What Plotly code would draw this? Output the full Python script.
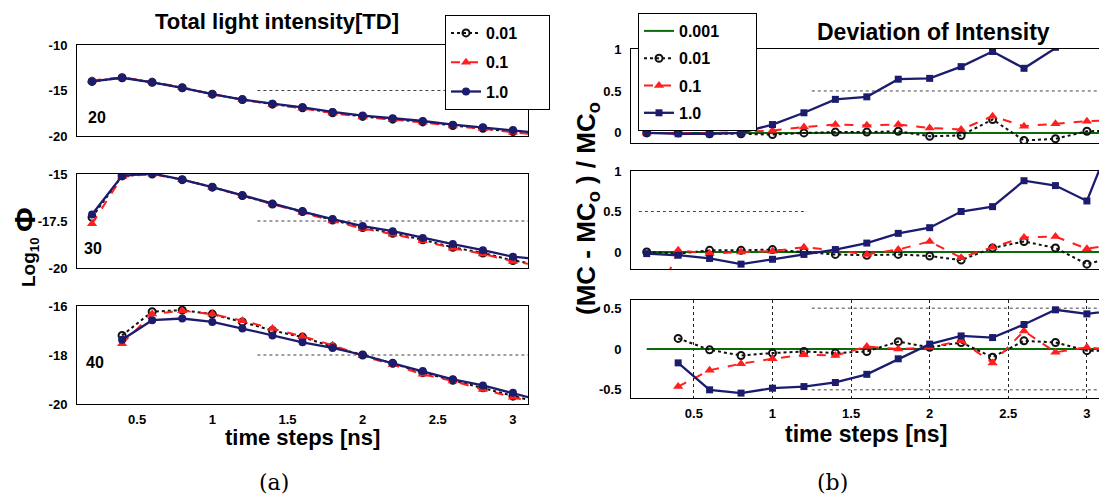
import plotly.graph_objects as go

W, H = 1099, 499

# ---------------- data ----------------
T = [0.2, 0.4, 0.6, 0.8, 1.0, 1.2, 1.4, 1.6, 1.8, 2.0, 2.2, 2.4, 2.6, 2.8, 3.0, 3.2]
T40 = [0.4, 0.6, 0.8, 1.0, 1.2, 1.4, 1.6, 1.8, 2.0, 2.2, 2.4, 2.6, 2.8, 3.0, 3.2]

# (a) Total light intensity, log10 Phi
L20_001 = [-14.0, -13.6, -14.1, -14.7, -15.4, -16.0, -16.5, -16.9, -17.45, -17.85, -18.15, -18.45, -18.85, -19.15, -19.5, -19.85]
L20_01 = [-13.9, -13.55, -14.05, -14.65, -15.4, -16.0, -16.55, -16.95, -17.5, -17.9, -18.2, -18.5, -18.9, -19.2, -19.6, -19.9]
L20_1 = [-14.0, -13.6, -14.1, -14.7, -15.4, -16.0, -16.45, -16.85, -17.35, -17.75, -18.05, -18.35, -18.75, -19.05, -19.35, -19.7]

L30_001 = [-17.3, -15.1, -15.0, -15.3, -15.7, -16.15, -16.6, -17.0, -17.45, -17.85, -18.15, -18.5, -18.9, -19.2, -19.6, -19.85]
L30_01 = [-17.65, -15.15, -15.0, -15.3, -15.7, -16.15, -16.6, -17.05, -17.5, -17.9, -18.2, -18.55, -18.95, -19.25, -19.65, -19.9]
L30_1 = [-17.15, -15.1, -14.97, -15.3, -15.7, -16.14, -16.6, -17.0, -17.4, -17.77, -18.04, -18.4, -18.73, -19.05, -19.4, -19.55]

L40_001 = [-17.2, -16.23, -16.17, -16.33, -16.65, -17.0, -17.27, -17.66, -18.0, -18.34, -18.72, -19.03, -19.34, -19.68, -19.98]
L40_01 = [-17.54, -16.33, -16.19, -16.33, -16.6, -16.92, -17.24, -17.6, -18.03, -18.4, -18.79, -19.06, -19.41, -19.72, -20.05]
L40_1 = [-17.38, -16.58, -16.51, -16.65, -16.92, -17.2, -17.48, -17.71, -18.0, -18.34, -18.65, -18.99, -19.24, -19.54, -19.88]

# (b) Deviation of intensity (MC - MCo)/MCo
D20_0001 = [0, 0, 0, 0, 0, 0, 0, 0, 0, 0, 0, 0, 0, 0, 0, 0]
D20_001 = [0, 0, -0.01, -0.01, -0.02, 0, 0.01, 0.01, 0.02, -0.04, -0.03, 0.16, -0.09, -0.07, 0.02, 0.03]
D20_01 = [0, 0, 0, 0.01, 0.03, 0.07, 0.1, 0.09, 0.1, 0.06, 0.04, 0.2, 0.08, 0.11, 0.14, 0.15]
D20_1 = [0, -0.01, -0.01, 0, 0.1, 0.24, 0.4, 0.43, 0.64, 0.65, 0.79, 0.97, 0.77, 1.02, 1.25, 1.4]

D30_0001 = [0, 0, 0, 0, 0, 0, 0, 0, 0, 0, 0, 0, 0, 0, 0, 0]
D30_001 = [0, -0.02, 0.02, 0.02, 0.03, 0, -0.03, -0.04, -0.03, -0.05, -0.1, 0.05, 0.13, 0.05, -0.15, -0.05]
D30_01 = [-0.9, 0.02, -0.02, 0, 0.01, 0.06, 0.02, -0.03, 0.03, 0.13, -0.07, 0.06, 0.18, 0.19, 0.04, 0.1]
D30_1 = [-0.02, -0.04, -0.08, -0.15, -0.09, -0.03, 0.03, 0.11, 0.23, 0.3, 0.5, 0.56, 0.88, 0.82, 0.63, 1.6]

D40_0001 = [0, 0, 0, 0, 0, 0, 0, 0, 0, 0, 0, 0, 0, 0, 0, 0]
D40_001 = [0.13, -0.01, -0.08, -0.05, -0.03, -0.05, -0.03, 0.09, 0.02, 0.08, -0.1, 0.1, 0.08, -0.02, -0.02]
D40_01 = [-0.46, -0.26, -0.18, -0.12, -0.07, -0.08, 0.03, 0, 0.02, 0.1, -0.17, 0.22, -0.04, 0.02, -0.02]
D40_1 = [-0.17, -0.5, -0.54, -0.48, -0.46, -0.41, -0.31, -0.12, 0.06, 0.16, 0.14, 0.3, 0.48, 0.43, 0.48]

X_TICKS = [0.5, 1, 1.5, 2, 2.5, 3]
X_TICKTEXT = ["0.5", "1", "1.5", "2", "2.5", "3"]
LEFT_YTICKS = [[-20, -15, -10], [-20, -17.5, -15], [-20, -18, -16]]
LEFT_YTEXT = [["-20", "-15", "-10"], ["-20", "-17.5", "-15"], ["-20", "-18", "-16"]]
RIGHT_YTICKS = [[0, 0.5, 1], [0, 0.5, 1], [-0.5, 0, 0.5]]
RIGHT_YTEXT = [["0", "0.5", "1"], ["0", "0.5", "1"], ["-0.5", "0", "0.5"]]
PANEL_LABELS = ["20", "30", "40"]

# ---------------- styles ----------------
NAVY = "#1c1c6e"
RED = "#ff1f1f"
BLACK = "#111111"
GREEN = "#0b6b0b"
FONT = "Liberation Sans"
PAD_L = "\u00a0" * 6
PAD_R = "\u00a0" * 7

STYLE = {
    "0.001": dict(line=dict(color=GREEN, width=2, dash="solid"), mode="lines"),
    "0.01": dict(line=dict(color=BLACK, width=2, dash="dot"), mode="lines+markers",
                 marker=dict(symbol="circle-open", size=7, color=BLACK, line=dict(width=2))),
    "0.1": dict(line=dict(color=RED, width=2, dash="dash"), mode="lines+markers",
                marker=dict(symbol="triangle-up", size=9, color=RED)),
    "1.0": dict(line=dict(color=NAVY, width=2.3, dash="solid"), mode="lines+markers",
                marker=dict(symbol="circle", size=8, color=NAVY)),
}


def px_x(p):
    return p / W


def px_y(p):
    return 1 - p / H


def bfont(size):
    return dict(family=FONT, size=size, color="black", weight="bold")


fig = go.Figure()

left_dom_x = [px_x(77), px_x(528)]
right_dom_x = [px_x(631), 1.0]
left_dom_y = [(45, 136), (174, 268), (306, 404)]
right_dom_y = [(49, 143), (171, 269), (300, 398)]
left_ranges = [[-20, -10], [-20, -15], [-20, -16]]
right_ranges = [[-0.12, 1], [-0.21, 1], [-0.6, 0.6]]

left_data = [
    (T, L20_001, L20_01, L20_1),
    (T, L30_001, L30_01, L30_1),
    (T40, L40_001, L40_01, L40_1),
]
right_data = [
    (T, T, D20_0001, D20_001, D20_01, D20_1),
    (T, T, D30_0001, D30_001, D30_01, D30_1),
    (T, T40, D40_0001, D40_001, D40_01, D40_1),
]

for i in range(3):
    ax = i + 1
    xs, a, b, c = left_data[i]
    for name, vals in zip(["0.01", "0.1", "1.0"], [a, b, c]):
        fig.add_trace(go.Scatter(
            x=xs, y=vals, name=name + PAD_L, xaxis=f"x{ax}", yaxis=f"y{ax}",
            legend="legend", legendgroup="L" + name, showlegend=(i == 0), **STYLE[name]))

for i in range(3):
    ax = i + 4
    xg, xs, g, a, b, c = right_data[i]
    fig.add_trace(go.Scatter(
        x=xg, y=g, name="0.001" + PAD_R, xaxis=f"x{ax}", yaxis=f"y{ax}",
        legend="legend2", legendgroup="R0.001", showlegend=(i == 0), **STYLE["0.001"]))
    for name, vals in zip(["0.01", "0.1", "1.0"], [a, b, c]):
        st = dict(STYLE[name])
        if name == "1.0":
            st = dict(st, marker=dict(symbol="square", size=7, color=NAVY))
        fig.add_trace(go.Scatter(
            x=xs, y=vals, name=name + PAD_R, xaxis=f"x{ax}", yaxis=f"y{ax}",
            legend="legend2", legendgroup="R" + name, showlegend=(i == 0), **st))

tickfont = bfont(13)
layout = {}
for i in range(3):
    ax = i + 1
    k = "" if ax == 1 else str(ax)
    y0, y1 = left_dom_y[i]
    layout["xaxis" + k] = dict(
        domain=left_dom_x, range=[0.1, 3.1], anchor="y" + k, tickvals=X_TICKS, ticktext=X_TICKTEXT,
        showticklabels=(i == 2), showline=True, mirror=True, linecolor="black", linewidth=1,
        showgrid=False, zeroline=False, ticks="", tickfont=tickfont, ticklabelstandoff=3,
        automargin=False)
    layout["yaxis" + k] = dict(
        domain=[px_y(y1), px_y(y0)], range=left_ranges[i], anchor="x" + k,
        tickvals=LEFT_YTICKS[i], ticktext=LEFT_YTEXT[i], showline=True, mirror=True,
        linecolor="black", linewidth=1, showgrid=False, zeroline=False, ticks="",
        tickfont=tickfont, ticklabelstandoff=6, automargin=False)
for i in range(3):
    ax = i + 4
    k = str(ax)
    y0, y1 = right_dom_y[i]
    layout["xaxis" + k] = dict(
        domain=right_dom_x, range=[0.1, 3.077], anchor="y" + k, tickvals=X_TICKS, ticktext=X_TICKTEXT,
        showticklabels=(i == 2), showline=True, mirror=True, linecolor="black", linewidth=1,
        showgrid=(i == 2), gridcolor="#222222", griddash="dot", gridwidth=1,
        zeroline=False, ticks="", tickfont=tickfont, ticklabelstandoff=3, automargin=False)
    layout["yaxis" + k] = dict(
        domain=[px_y(y1), px_y(y0)], range=right_ranges[i], anchor="x" + k,
        tickvals=RIGHT_YTICKS[i], ticktext=RIGHT_YTEXT[i], showline=True, mirror=False,
        linecolor="black", linewidth=1, showgrid=False, zeroline=False, ticks="",
        tickfont=tickfont, ticklabelstandoff=6, automargin=False)

fig.update_layout(**layout)

# partial dotted reference lines (as seen on the scan)
DOTTED = [
    ("x1", "y1", 1.3, 3.1, -15),
    ("x2", "y2", 1.3, 3.1, -17.5),
    ("x3", "y3", 1.3, 3.1, -18),
    ("x4", "y4", 1.25, 3.1, 0.5),
    ("x5", "y5", 0.15, 1.22, 0.5),
    ("x6", "y6", 1.25, 3.1, 0.5),
    ("x6", "y6", 1.25, 3.1, -0.5),
]
for xr, yr, xa, xb, yv in DOTTED:
    fig.add_shape(type="line", xref=xr, yref=yr, x0=xa, x1=xb, y0=yv, y1=yv,
                  line=dict(color="#444444", width=1, dash="dot"), layer="below")

ann = []
for lab, (x, y) in zip(PANEL_LABELS, [(97, 117), (93, 248), (95, 362)]):
    ann.append(dict(text=lab, x=px_x(x), y=px_y(y), xref="paper", yref="paper", showarrow=False,
                    font=bfont(16), xanchor="center", yanchor="middle"))
ann += [
    dict(text="Total light intensity[TD]", x=px_x(277), y=px_y(21), xref="paper", yref="paper",
         showarrow=False, font=bfont(22), xanchor="center", yanchor="middle"),
    dict(text="Deviation of Intensity", x=px_x(933), y=px_y(32), xref="paper", yref="paper",
         showarrow=False, font=bfont(23), xanchor="center", yanchor="middle"),
    dict(text="time steps [ns]", x=px_x(302), y=px_y(437), xref="paper", yref="paper",
         showarrow=False, font=bfont(22), xanchor="center", yanchor="middle"),
    dict(text="time steps [ns]", x=px_x(866), y=px_y(434), xref="paper", yref="paper",
         showarrow=False, font=bfont(23), xanchor="center", yanchor="middle"),
    dict(text="Log<sub>10</sub> <span style='font-size:30px'>Φ</span>", x=px_x(25), y=px_y(247),
         xref="paper", yref="paper", textangle=-90, showarrow=False,
         font=bfont(19), xanchor="center", yanchor="middle"),
    dict(text="(MC - MC<sub>o</sub> ) / MC<sub>o</sub>", x=px_x(587), y=px_y(209),
         xref="paper", yref="paper", textangle=-90, showarrow=False,
         font=bfont(26), xanchor="center", yanchor="middle"),
    dict(text="(a)", x=px_x(274), y=px_y(482), xref="paper", yref="paper", showarrow=False,
         font=dict(family="DejaVu Serif", size=22, color="black"), xanchor="center", yanchor="middle"),
    dict(text="(b)", x=px_x(832), y=px_y(482), xref="paper", yref="paper", showarrow=False,
         font=dict(family="DejaVu Serif", size=22, color="black"), xanchor="center", yanchor="middle"),
]

legfont = bfont(16)
fig.update_layout(
    width=W, height=H, margin=dict(l=0, r=0, t=0, b=0, autoexpand=False),
    paper_bgcolor="white", plot_bgcolor="white",
    annotations=ann,
    legend=dict(x=px_x(445), y=px_y(15), xanchor="left", yanchor="top", bgcolor="white",
                bordercolor="black", borderwidth=1, font=legfont, traceorder="grouped",
                tracegroupgap=5.5, itemclick=False),
    legend2=dict(x=px_x(638), y=px_y(13), xanchor="left", yanchor="top", bgcolor="white",
                 bordercolor="black", borderwidth=1, font=legfont, traceorder="grouped",
                 tracegroupgap=3.5, itemclick=False),
)

fig.write_html(
    "out.html",
    config={"displayModeBar": False},
    post_script="document.body.style.margin='0';document.body.style.overflow='hidden';",
)
